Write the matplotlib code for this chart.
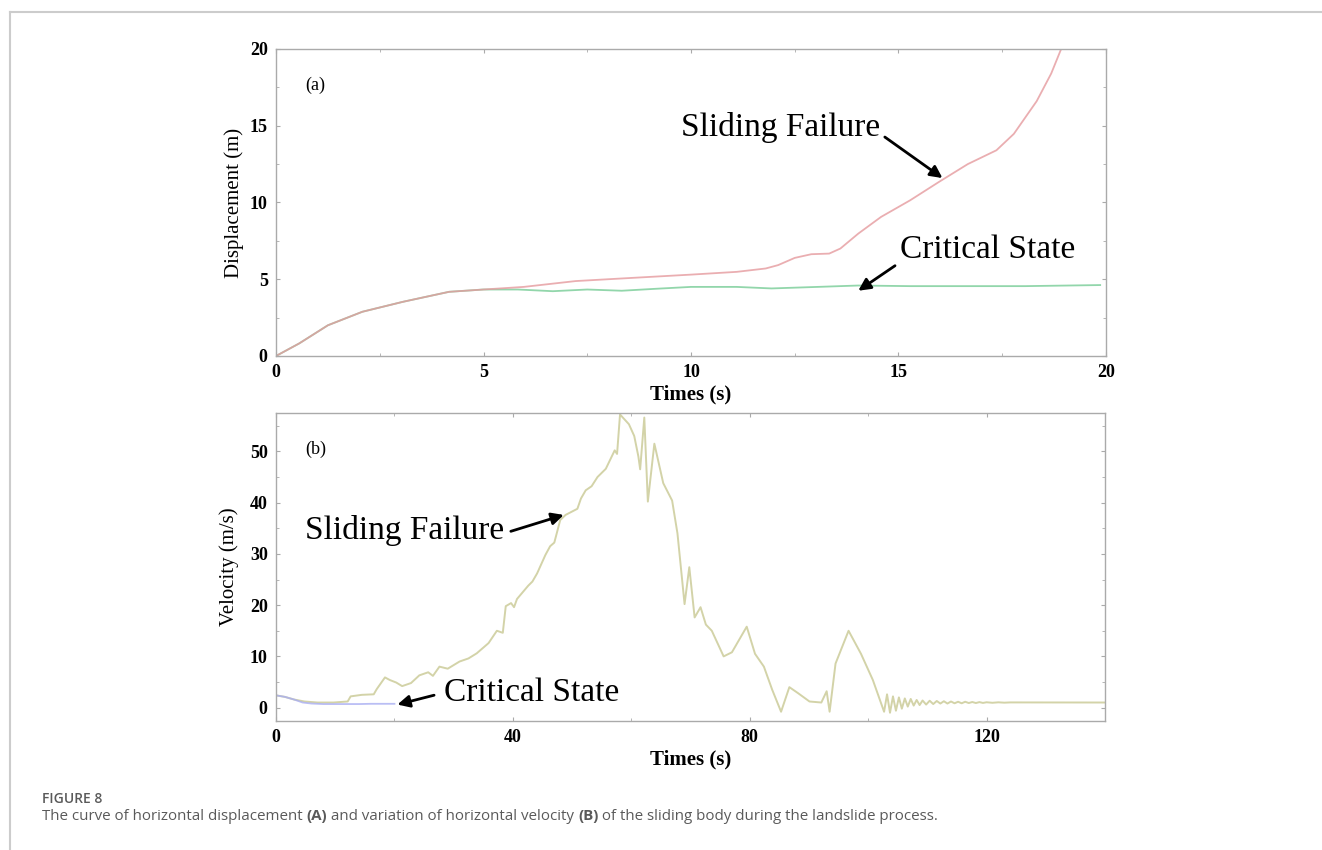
import matplotlib
matplotlib.use("Agg")
import matplotlib.pyplot as plt
from matplotlib.lines import Line2D
from matplotlib.ticker import MultipleLocator

# (a) horizontal displacement
disp_time = [0, 0.56, 1.25, 2.08, 3.06, 4.17, 5.0, 5.97, 7.22, 8.6, 10.0, 11.1,
             11.8, 12.1, 12.5, 12.9, 13.33, 13.6, 14.03, 14.58, 15.28, 15.97,
             16.67, 17.36, 17.78, 18.33, 18.68, 18.92]
disp_slide = [0, 0.82, 2.0, 2.88, 3.53, 4.18, 4.33, 4.5, 4.88, 5.09, 5.3, 5.48,
              5.7, 5.92, 6.39, 6.63, 6.67, 7.0, 7.97, 9.06, 10.14, 11.33,
              12.5, 13.4, 14.47, 16.6, 18.4, 20.0]
crit_time = [0, 0.56, 1.25, 2.08, 3.06, 4.17, 5.0, 5.83, 6.67, 7.5, 8.33, 9.17,
             10.0, 11.1, 11.94, 13.05, 14.03, 15.28, 16.67, 18.05, 19.86]
disp_crit = [0, 0.82, 2.0, 2.88, 3.53, 4.18, 4.33, 4.33, 4.22, 4.33, 4.25, 4.38,
             4.5, 4.5, 4.4, 4.5, 4.59, 4.55, 4.55, 4.55, 4.62]

# (b) horizontal velocity
vel_time = [0, 1.5, 3, 4.8, 7, 9.7, 12.1, 12.6, 14.5, 16.5, 17, 18.4, 19.2, 20.3,
            21.3, 22.8, 24.2, 25.7, 26.5, 27.6, 29, 31, 32.5, 33.9, 35.9, 37.3, 38.3,
            38.8, 39.7, 40.2, 40.7, 42.6, 43.3, 44.1, 45.5, 46.3, 47, 48, 48.9, 50.9,
            51.5, 52.3, 53.3, 54.3, 55.7, 57.2, 57.6, 58.1, 59.6, 60.5, 61.2, 61.5, 62.2,
            62.8, 63.9, 65.4, 66.9, 67.8, 69, 69.8, 70.7, 71.7, 72.6, 73.6, 75.6, 77,
            79.5, 80.9, 82.4, 83.8, 85.3, 86.7, 88.2, 90.1, 92.1, 93, 93.5, 94.5,
            96.7, 98.8, 100.8, 102.7, 103.2, 103.7, 104.2, 104.7, 105.2, 105.7,
            106.2, 106.7, 107.2, 107.7, 108.2, 108.7, 109.2, 109.8, 110.4, 111,
            111.6, 112.2, 112.8, 113.4, 114, 114.6, 115.2, 115.8, 116.4, 117,
            117.6, 118.2, 118.8, 119.4, 120, 121, 122, 123, 124, 140]
vel_slide = [2.4, 2.1, 1.6, 1.2, 1.0, 1.0, 1.2, 2.2, 2.5, 2.6, 3.6, 5.9, 5.4, 4.9,
             4.2, 4.8, 6.3, 6.9, 6.2, 8.0, 7.6, 9.0, 9.6, 10.6, 12.6, 15.0, 14.6,
             19.8, 20.4, 19.6, 21.2, 23.8, 24.6, 26.2, 29.8, 31.5, 32.2, 36.6, 37.6, 38.8,
             40.8, 42.4, 43.2, 45.0, 46.6, 50.2, 49.5, 57.2, 55.3, 53.0, 49.0, 46.5, 56.6,
             40.2, 51.5, 43.8, 40.4, 34.0, 20.2, 27.4, 17.6, 19.6, 16.2, 15.0, 10.0, 10.8,
             15.8, 10.5, 8.0, 3.5, -0.8, 4.0, 2.8, 1.2, 1.0, 3.2, -0.8, 8.6,
             15.0, 10.5, 5.4, -0.8, 2.6, -1.0, 2.2, -0.6, 2.0, -0.2,
             1.8, 0.2, 1.7, 0.4, 1.5, 0.5, 1.4, 0.6, 1.35, 0.7,
             1.3, 0.8, 1.25, 0.8, 1.2, 0.85, 1.15, 0.85, 1.15, 0.9,
             1.1, 0.9, 1.08, 0.92, 1.05, 0.95, 1.04, 0.97, 1.02, 1.0]
vel_crit_time = [0, 1.5, 3, 4.5, 6, 8, 10, 12, 14, 16, 18, 20]
vel_crit = [2.4, 2.1, 1.6, 1.0, 0.8, 0.7, 0.7, 0.7, 0.7, 0.75, 0.75, 0.75]

serif = "Liberation Serif"
fig = plt.figure(figsize=(13.22, 8.5), dpi=100)

# page frame lines
fig.add_artist(Line2D([0.0076, 1.0], [0.9859, 0.9859], color="#cccccc", lw=1.5))
fig.add_artist(Line2D([0.0076, 0.0076], [0.0, 0.9859], color="#cccccc", lw=1.5))


def style_axes(ax):
    for s in ax.spines.values():
        s.set_color("#aaaaaa")
        s.set_linewidth(1.0)
    ax.tick_params(which="both", direction="in", colors="#aaaaaa", top=True,
                   right=True, length=3, labelcolor="black", pad=6)
    ax.tick_params(which="minor", length=2)
    for lab in ax.get_xticklabels() + ax.get_yticklabels():
        lab.set_fontfamily(serif)
        lab.set_fontweight("bold")
        lab.set_fontsize(13)


def arrow(relpos, shrink=2):
    return dict(arrowstyle="-|>", color="black", lw=2, mutation_scale=18,
                shrinkA=shrink, shrinkB=0, relpos=relpos)


ax1 = fig.add_axes([0.2088, 0.5812, 0.6278, 0.3612])
ax1.plot(crit_time, disp_crit, color="#7fcf9c", lw=1.3, alpha=0.85)
ax1.plot(disp_time, disp_slide, color="#e59a9e", lw=1.3, alpha=0.8)
ax1.set_xlim(0, 20)
ax1.set_ylim(0, 20)
ax1.set_xticks([0, 5, 10, 15, 20])
ax1.set_yticks([0, 5, 10, 15, 20])
ax1.xaxis.set_minor_locator(MultipleLocator(2.5))
ax1.yaxis.set_minor_locator(MultipleLocator(2.5))
style_axes(ax1)
ax1.set_xlabel("Times (s)", family=serif, fontsize=15, fontweight="bold", labelpad=2)
ax1.set_ylabel("Displacement (m)", family=serif, fontsize=15, labelpad=4)
ax1.text(0.7, 17.6, "(a)", family=serif, fontsize=13, va="center")
ax1.annotate("Sliding Failure", xy=(16.06, 11.59), xytext=(12.15, 14.9),
             family=serif, fontsize=24, ha="center", va="center",
             arrowprops=arrow((1.0, 0.3)))
ax1.annotate("Critical State", xy=(14.03, 4.25), xytext=(17.15, 6.9),
             family=serif, fontsize=24, ha="center", va="center",
             arrowprops=arrow((0.0, 0.1)))

ax2 = fig.add_axes([0.2088, 0.1518, 0.627, 0.3624])
ax2.plot(vel_time, vel_slide, color="#d3d3a8", lw=1.4)
ax2.plot(vel_crit_time, vel_crit, color="#a9aef2", lw=1.3, alpha=0.8)
ax2.set_xlim(0, 140)
ax2.set_ylim(-2.6, 57.5)
ax2.set_xticks([0, 40, 80, 120])
ax2.set_yticks([0, 10, 20, 30, 40, 50])
ax2.xaxis.set_minor_locator(MultipleLocator(20))
ax2.yaxis.set_minor_locator(MultipleLocator(5))
style_axes(ax2)
ax2.set_xlabel("Times (s)", family=serif, fontsize=15, fontweight="bold", labelpad=2)
ax2.set_ylabel("Velocity (m/s)", family=serif, fontsize=15, labelpad=8)
ax2.text(5.0, 50.3, "(b)", family=serif, fontsize=13, va="center")
ax2.annotate("Sliding Failure", xy=(48.6, 37.6), xytext=(21.7, 34.6),
             family=serif, fontsize=24, ha="center", va="center",
             arrowprops=arrow((1.0, 0.4), shrink=3))
ax2.annotate("Critical State", xy=(20.5, 0.6), xytext=(43.1, 2.9),
             family=serif, fontsize=24, ha="center", va="center",
             arrowprops=arrow((0.0, 0.5), shrink=5))

# caption
cap = "Open Sans"
fig.text(0.0318, 0.0600, "FIGURE 8", family=cap, fontsize=10,
         fontweight="semibold", color="#5a5a5a", va="center")
parts = [("The curve of horizontal displacement ", "normal"), ("(A)", "bold"),
         (" and variation of horizontal velocity ", "normal"), ("(B)", "bold"),
         (" of the sliding body during the landslide process.", "normal")]
renderer = fig.canvas.get_renderer()
x = 0.0318
for txt, w in parts:
    t = fig.text(x, 0.0395, txt, family=cap, fontsize=10.9, fontweight=w,
                 color="#5a5a5a", va="center")
    bb = t.get_window_extent(renderer=renderer)
    x += bb.width / fig.bbox.width

fig.savefig("out.png", dpi=100)
